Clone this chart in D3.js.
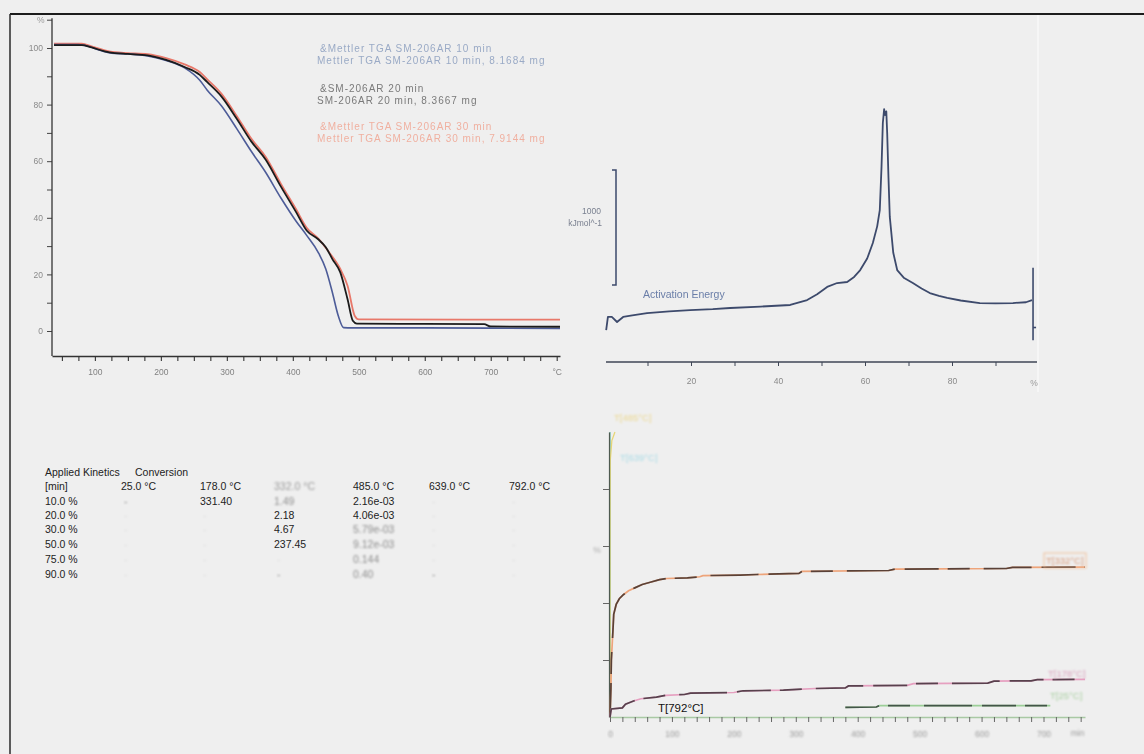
<!DOCTYPE html>
<html><head><meta charset="utf-8">
<script src="https://cdn.jsdelivr.net/npm/d3@7"></script>
<style>
html,body{margin:0;padding:0;background:#efefef;}
svg{display:block;font-family:"Liberation Sans",Arial,sans-serif;}
</style></head><body>
<svg id="c" width="1144" height="754"></svg>
<script>
// ---------- TGA curves: temperature (°C) vs residual mass (%) ----------
const tga10min = [[38,101.2],[75,101.2],[90,100.6],[110,99.0],[125,98.2],[150,97.9],[180,97.2],[208,95.6],[236,93.0],[259,88.6],[270,85.2],[292,79.5],[315,71.5],[337,63.5],[359,56.0],[382,47.0],[405,38.8],[421,33.8],[438,28.0],[450,21.9],[460,13.6],[469,5.3],[477,1.2],[490,1.1],[600,1.1],[700,1.0],[805,0.9]];
const tga20min = [[38,101.0],[80,101.0],[95,100.2],[115,98.8],[130,98.2],[150,97.9],[180,97.4],[208,95.8],[236,93.3],[259,90.5],[270,88.0],[292,82.8],[315,75.0],[337,67.0],[359,60.5],[382,51.0],[405,42.0],[421,35.5],[438,32.5],[450,29.6],[460,25.4],[472,20.7],[483,11.2],[491,3.6],[497,2.6],[600,2.5],[690,2.4],[700,1.6],[805,1.5]];
const tga30min = [[38,101.5],[80,101.5],[95,100.6],[115,99.2],[130,98.5],[150,98.2],[180,97.8],[208,96.4],[236,94.2],[259,91.5],[270,89.0],[292,83.8],[315,76.0],[337,68.0],[359,61.5],[382,52.0],[405,43.0],[421,36.5],[438,32.8],[455,27.8],[472,21.9],[483,16.0],[494,5.3],[500,4.1],[805,4.0]];
const tgaLegend = [
  ["&Mettler TGA SM-206AR 10 min", "Mettler TGA SM-206AR 10 min, 8.1684 mg"],
  ["&SM-206AR 20 min", "SM-206AR 20 min, 8.3667 mg"],
  ["&Mettler TGA SM-206AR 30 min", "Mettler TGA SM-206AR 30 min, 7.9144 mg"]
];
const tgaTempTicks = [50,75,100,125,150,175,200,225,250,275,300,325,350,375,400,425,450,475,500,525,550,575,600,625,650,675,700,725,750,775,800];
const tgaMassTicks = [0,10,20,30,40,50,60,70,80,90,100,110];

// ---------- Activation energy (kJ/mol) vs conversion (%) ----------
const activationEnergy = [[0.5,278],[0.9,392],[1.8,392],[3.0,348],[4.4,392],[6.5,405],[9.9,426],[15,440],[19.8,452],[25,460],[29.0,470],[36,482],[42.8,496],[46.7,539],[49,590],[51.3,653],[53.6,687],[55.9,696],[57.5,740],[58.9,800],[60.5,900],[61.8,1035],[62.8,1180],[63.4,1322],[63.8,1700],[64.1,2079],[64.4,2200],[64.6,2149],[64.9,2180],[65.1,1992],[65.4,1600],[65.7,1262],[66.5,950],[67.4,800],[69,730],[71.0,687],[73,640],[74.9,600],[77,575],[78.9,557],[82,535],[86.4,513],[90,510],[94.0,513],[97,520],[98.4,539]];
const eaScaleBar = [670, 1670];      // 1000 kJ/mol bar
const eaTicks = [10,20,30,40,50,60,70,80,90];

// ---------- Applied kinetics: conversion (%) vs time (min) ----------
const kinT332 = [[0,0],[1.49,10],[2.18,20],[4.67,30],[6,36],[10,39.5],[15,41.5],[22,43],[30,44.3],[40,45.3],[52,46.5],[65,47.3],[80,48.2],[92,48.6],[125,48.8],[145,49.2],[150,49.6],[210,49.8],[237.45,50.0],[305,50.4],[310,51.1],[450,51.4],[460,51.9],[640,52.1],[650,52.5],[767,52.6]];
const kinT178 = [[0,0],[2,2.8],[20,3.2],[25,4.5],[38,5.6],[50,6.4],[75,7.0],[90,7.6],[120,7.9],[130,8.4],[200,8.6],[215,9.2],[280,9.4],[331.4,10.0],[380,10.2],[385,10.9],[480,11.1],[490,11.7],[610,11.9],[620,12.6],[680,12.7],[690,13.1],[767,13.2]];
const kinT25 = [[380,3.4],[430,3.5],[435,4.0],[711,4.0]];
const kinT485 = [[0,0],[0.00216,10],[0.00406,20],[0.00579,30],[0.00912,50],[0.144,75],[0.40,90],[3,97],[8,100]];
const kinT639 = [[0,0],[0.0005,100]];
const kinT792 = [[0,0],[0.0002,100]];
const kinTimeTicks = d3.range(0, 761, 20);
const kinTimeLabels = [0,100,200,300,400,500,600,700];
const kinConvTicks = [20,40,60,80];

// ---------- Table of times to reach conversion ----------
const tableTitle = ["Applied Kinetics", "Conversion"];
const tableTemps = ["25.0 °C","178.0 °C","332.0 °C","485.0 °C","639.0 °C","792.0 °C"];
const tableConversions = ["10.0 %","20.0 %","30.0 %","50.0 %","75.0 %","90.0 %"];
const tableTimes = [
  ["-","331.40","1.49","2.16e-03","-","-"],
  ["-","-","2.18","4.06e-03","-","-"],
  ["-","-","4.67","5.79e-03","-","-"],
  ["-","-","237.45","9.12e-03","-","-"],
  ["-","-","-","0.144","-","-"],
  ["-","-","-","0.40","-","-"]
];
// legibility of each cell: 0 faint, 1 soft, 2 sharp
const tableInk = [
  [1,2,1,2,0,0],
  [0,0,2,2,0,0],
  [0,0,2,1,0,0],
  [0,0,2,1,0,0],
  [0,0,0,1,0,0],
  [0,0,1,1,1,0]
];

const svg = d3.select("#c");
const defs = svg.append("defs");
defs.append("filter").attr("id","soft").append("feGaussianBlur").attr("stdDeviation",0.55);
defs.append("filter").attr("id","softer").append("feGaussianBlur").attr("stdDeviation",0.9);

// frame
svg.append("line").attr("x1",10).attr("x2",1144).attr("y1",14).attr("y2",14).attr("stroke","#1c1c1c").attr("stroke-width",2);
svg.append("line").attr("x1",10).attr("x2",10).attr("y1",14).attr("y2",754).attr("stroke","#2a2a2a").attr("stroke-width",1.5);
svg.append("line").attr("x1",1038).attr("x2",1038).attr("y1",15).attr("y2",392).attr("stroke","#fafafa").attr("stroke-width",1.2);

// ================= TGA panel =================
{
  const x = d3.scaleLinear().domain([35,805]).range([52,560]);
  const y = d3.scaleLinear().domain([0,100]).range([331,48]);
  const g = svg.append("g");
  const yAx = d3.axisLeft(y).tickValues(tgaMassTicks).tickSize(5).tickPadding(4).tickSizeOuter(0)
    .tickFormat(d => d % 20 === 0 && d <= 100 ? d : "");
  const ya = g.append("g").attr("transform","translate(52,0)").call(yAx);
  ya.select(".domain").remove();
  g.append("line").attr("x1",52).attr("x2",52).attr("y1",y(110.5)).attr("y2",356).attr("stroke","#333").attr("stroke-width",1.3);
  ya.selectAll(".tick line").attr("stroke","#444");
  ya.selectAll(".tick text").attr("fill","#8a8a8a").attr("font-size",8.5).attr("filter","url(#soft)");
  g.append("text").attr("x",37).attr("y",y(110)+3).attr("font-size",8.5).attr("fill","#999").attr("filter","url(#soft)").text("%");

  const xAx = d3.axisBottom(x).tickValues(tgaTempTicks).tickSize(5).tickPadding(8).tickSizeOuter(0)
    .tickFormat(d => d === 800 ? "°C" : (d % 100 === 0 ? d : ""));
  const xa = g.append("g").attr("transform","translate(0,356)").call(xAx);
  xa.select(".domain").attr("stroke","#333").attr("stroke-width",1.3);
  xa.selectAll(".tick line").attr("stroke","#333").attr("stroke-width",1.1);
  xa.selectAll(".tick text").attr("fill","#808080").attr("font-size",8.5).attr("filter","url(#soft)");

  const line = d3.line().x(d => x(d[0])).y(d => y(d[1])).curve(d3.curveMonotoneX);
  g.append("path").datum(tga30min).attr("d",line).attr("fill","none").attr("stroke","#e8786a").attr("stroke-width",1.8);
  g.append("path").datum(tga10min).attr("d",line).attr("fill","none").attr("stroke","#4d5c98").attr("stroke-width",1.6);
  g.append("path").datum(tga20min).attr("d",line).attr("fill","none").attr("stroke","#1b1b1b").attr("stroke-width",1.8);

  const legColors = ["#9aaac6","#7a7a7a","#f0b0a0"];
  const legY = [[48,60],[88,100],[126,138]];
  const lg = g.append("g").attr("filter","url(#soft)").attr("font-size",10).attr("letter-spacing",1);
  tgaLegend.forEach((pair,i) => {
    pair.forEach((t,j) => {
      lg.append("text").attr("x", j === 0 ? 320 : 317).attr("y", legY[i][j]+4)
        .attr("fill", legColors[i]).text(t);
    });
  });
}

// ================= Activation energy panel =================
{
  const x = d3.scaleLinear().domain([0,100]).range([604,1039]);
  const y = d3.scaleLinear().domain([0,2300]).range([362,362-2300/8.7]);
  const g = svg.append("g");
  const xAx = d3.axisBottom(x).tickValues(eaTicks).tickSize(4).tickPadding(12).tickSizeOuter(0)
    .tickFormat(d => d % 20 === 0 ? d : "");
  const xa = g.append("g").attr("transform","translate(0,362)").call(xAx);
  xa.select(".domain").attr("d","M606,0H1037").attr("stroke","#3f4656").attr("stroke-width",1.3);
  xa.selectAll(".tick line").attr("stroke","#3f4656");
  xa.selectAll(".tick text").attr("fill","#8a8a8a").attr("font-size",8.5).attr("filter","url(#soft)");
  g.append("text").attr("x",x(98)).attr("y",386).attr("font-size",8.5).attr("fill","#999").attr("filter","url(#soft)").text("%");

  const line = d3.line().x(d => x(d[0])).y(d => y(d[1]));
  g.append("path").datum(activationEnergy).attr("d",line).attr("fill","none")
    .attr("stroke","#3d4a6c").attr("stroke-width",1.8).attr("stroke-linejoin","round");

  // scale bar
  const bx = 616;
  g.append("path").attr("d",`M${bx-4},${y(eaScaleBar[1])}H${bx}V${y(eaScaleBar[0])}H${bx-4}`)
    .attr("fill","none").attr("stroke","#3d4a6c").attr("stroke-width",1.5);
  g.append("text").attr("x",601).attr("y",214).attr("text-anchor","end").attr("font-size",8.5)
    .attr("fill","#7a8090").attr("filter","url(#soft)").text(eaScaleBar[1]-eaScaleBar[0]);
  g.append("text").attr("x",602).attr("y",226).attr("text-anchor","end").attr("font-size",8.5)
    .attr("fill","#7a8090").attr("filter","url(#soft)").text("kJmol^-1");

  // end marker
  const last = activationEnergy[activationEnergy.length-1];
  const ex = x(last[0]) + 1;
  g.append("line").attr("x1",ex).attr("x2",ex).attr("y1",y(820)).attr("y2",y(190)).attr("stroke","#3d4a6c").attr("stroke-width",1.6);
  g.append("line").attr("x1",ex).attr("x2",ex+3).attr("y1",y(300)).attr("y2",y(300)).attr("stroke","#3d4a6c").attr("stroke-width",1.6);

  g.append("text").attr("x",643).attr("y",298).attr("font-size",10.5).attr("fill","#6a7ea8")
    .attr("filter","url(#soft)").text("Activation Energy");
}

// ================= Table =================
{
  const g = svg.append("g").attr("font-size",10.5);
  const colX = [121,200,274,353,429,509];
  const rowY = [501,515,529,544,559,574];
  g.append("text").attr("x",45).attr("y",476).attr("fill","#222").text(tableTitle[0]);
  g.append("text").attr("x",135).attr("y",476).attr("fill","#222").text(tableTitle[1]);
  g.append("text").attr("x",45).attr("y",490).attr("fill","#222").text("[min]");
  tableTemps.forEach((t,i) => {
    g.append("text").attr("x",colX[i]).attr("y",490)
      .attr("fill", i === 2 ? "#999" : "#222")
      .attr("filter", i === 2 ? "url(#softer)" : null).text(t);
  });
  tableConversions.forEach((c,r) => {
    g.append("text").attr("x",45).attr("y",rowY[r]+4).attr("fill","#222").text(c);
    tableTimes[r].forEach((v,i) => {
      const ink = tableInk[r][i];
      g.append("text").attr("x",colX[i] + (v === "-" ? 3 : 0)).attr("y",rowY[r]+4)
        .attr("fill", ink === 2 ? "#222" : ink === 1 ? "#8c8c8c" : "#dadada")
        .attr("filter", ink === 2 ? null : "url(#softer)")
        .text(v);
    });
  });
}

// ================= Applied kinetics panel =================
{
  const x = d3.scaleLinear().domain([0,767]).range([610,1085]);
  const y = d3.scaleLinear().domain([0,100]).range([717,432]);
  const g = svg.append("g");

  const line = d3.line().x(d => x(d[0])).y(d => y(d[1]));
  const draw = (data, base, dark, w) => {
    g.append("path").datum(data).attr("d",line).attr("fill","none").attr("stroke",base).attr("stroke-width",w);
    if (dark) g.append("path").datum(data).attr("d",line).attr("fill","none").attr("stroke",dark)
      .attr("stroke-width",w).attr("stroke-dasharray","34,9,22,14,48,10").attr("opacity",0.85);
  };
  draw(kinT792, "#8cc48a", null, 1.6);
  draw(kinT639, "#9fd6e2", null, 1.2);
  draw(kinT485, "#e6d676", null, 1.3);

  const xAx = d3.axisBottom(x).tickValues(kinTimeTicks).tickSize(5).tickPadding(9).tickSizeOuter(0)
    .tickFormat(d => kinTimeLabels.includes(d) ? d : "");
  const xa = g.append("g").attr("transform","translate(0,717)").call(xAx);
  xa.select(".domain").attr("stroke","#a9c9a4").attr("stroke-width",1.6);
  xa.selectAll(".tick line").attr("stroke","#666").attr("stroke-width",1);
  xa.selectAll(".tick text").attr("fill","#9a9a9a").attr("font-size",8.5).attr("filter","url(#softer)");
  g.append("text").attr("x",x(755)).attr("y",736).attr("font-size",8.5).attr("fill","#9a9a9a")
    .attr("text-anchor","middle").attr("filter","url(#softer)").text("min");

  const yAx = d3.axisLeft(y).tickValues(kinConvTicks).tickSize(6).tickFormat("").tickSizeOuter(0);
  const ya = g.append("g").attr("transform","translate(609,0)").call(yAx);
  ya.select(".domain").attr("stroke","#4e5a50").attr("stroke-width",1.2);
  ya.selectAll(".tick line").attr("stroke","#666");
  g.append("text").attr("x",597).attr("y",553).attr("font-size",8.5).attr("fill","#aaa")
    .attr("text-anchor","middle").attr("filter","url(#softer)").text("%");

  draw(kinT332, "#eea47a", "#40302c", 1.7);
  draw(kinT178, "#e6a0c0", "#3e3038", 1.7);
  draw(kinT25, "#9ccf98", "#34403a", 1.7);

  // curve labels
  const lab = g.append("g").attr("font-size",9.5).attr("filter","url(#softer)");
  lab.append("text").attr("x",614).attr("y",421).attr("fill","#ecd890").text("T[485°C]");
  lab.append("text").attr("x",620).attr("y",461).attr("fill","#a9dbe6").text("T[639°C]");
  lab.append("rect").attr("x",1044).attr("y",553).attr("width",42).attr("height",15)
    .attr("fill","none").attr("stroke","#f0bf98").attr("stroke-width",1);
  lab.append("text").attr("x",1046).attr("y",564).attr("fill","#d89a78").text("T[332°C]");
  lab.append("text").attr("x",1048).attr("y",677).attr("fill","#d8a0bc").text("T[178°C]");
  lab.append("text").attr("x",1050).attr("y",699).attr("fill","#a8cfa0").text("T[25°C]");
  g.append("text").attr("x",658).attr("y",712).attr("font-size",11.5).attr("fill","#111").text("T[792°C]");
}
</script>
</body></html>
